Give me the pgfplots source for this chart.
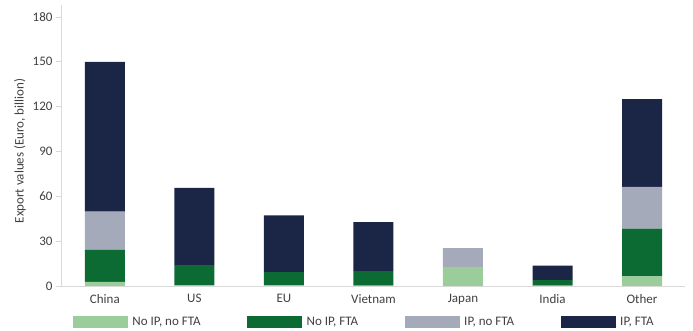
\documentclass[border=0pt]{standalone}
\usepackage{pgfplots}
\pgfplotsset{compat=1.18}
\usepackage{pgfplotstable}
\usepackage{fontspec}
\setmainfont{Carlito}

\definecolor{lgreen}{HTML}{9BCD9B}
\definecolor{dgreen}{HTML}{0B6B32}
\definecolor{greyb}{HTML}{A5AABA}
\definecolor{navy}{HTML}{1B2545}
\definecolor{txt}{HTML}{404040}
\definecolor{axl}{HTML}{D9D9D9}

% columns: no IP no FTA, no IP FTA, IP no FTA, IP FTA
\pgfplotstableread{
x  a     b     c     d
0  2.7   21.4  25.7  100.2
1  0.5   13.4  0     51.7
2  0.5   8.7   0     38.1
3  0.3   9.7   0     32.8
4  12.7  0     12.7  0
5  0.3   3.7   0     9.6
6  6.5   31.9  27.9  58.7
}\exports

\pgfplotsset{leg/.style={legend image code/.code={\fill[##1,draw=none] (0pt,-6pt) rectangle (55pt,6pt);}}}

\begin{document}
\begin{tikzpicture}[font=\fontsize{13}{15}\selectfont]
\begin{axis}[
    at={(0,0)}, anchor=south west,
    scale only axis,
    width=624pt, height=281pt,
    ybar stacked,
    bar width=40pt,
    xmin=-0.49, xmax=6.48,
    ymin=0, ymax=188,
    xtick=data,
    xticklabels={China,US,EU,Vietnam,Japan,India,Other},
    ytick={0,30,60,90,120,150,180},
    axis lines=left,
    axis line style={-, axl, line width=0.8pt},
    x tick style={draw=none},
    y tick style={axl, line width=0.8pt},
    tick align=outside,
    major tick length=5pt,
    tick label style={font=\fontsize{13}{15}\selectfont, text=txt},
    /pgf/number format/assume math mode=true,
    ylabel={Export values (Euro, billion)},
    ylabel style={font=\fontsize{13}{15}\selectfont, text=txt, at={(axis description cs:-0.066,0.48)}, anchor=center},
    legend columns=4,
    legend style={at={(axis description cs:0.0192,-0.127)}, anchor=west, draw=none, fill=none,
        inner sep=0pt, outer sep=0pt, font=\fontsize{13}{15}\selectfont, text=txt,
        /tikz/every even column/.append style={column sep=42pt},
        nodes={inner sep=4.5pt}},
]
\addplot[fill=lgreen, draw=none, leg] table[x=x, y=a] {\exports};
\addlegendentry{No IP, no FTA}
\addplot[fill=dgreen, draw=none, leg] table[x=x, y=b] {\exports};
\addlegendentry{No IP, FTA}
\addplot[fill=greyb, draw=none, leg] table[x=x, y=c] {\exports};
\addlegendentry{IP, no FTA}
\addplot[fill=navy, draw=none, leg] table[x=x, y=d] {\exports};
\addlegendentry{IP, FTA}
\end{axis}
\pgfresetboundingbox
\path (-61pt,-45pt) rectangle (632pt,286pt);
\end{tikzpicture}
\end{document}
